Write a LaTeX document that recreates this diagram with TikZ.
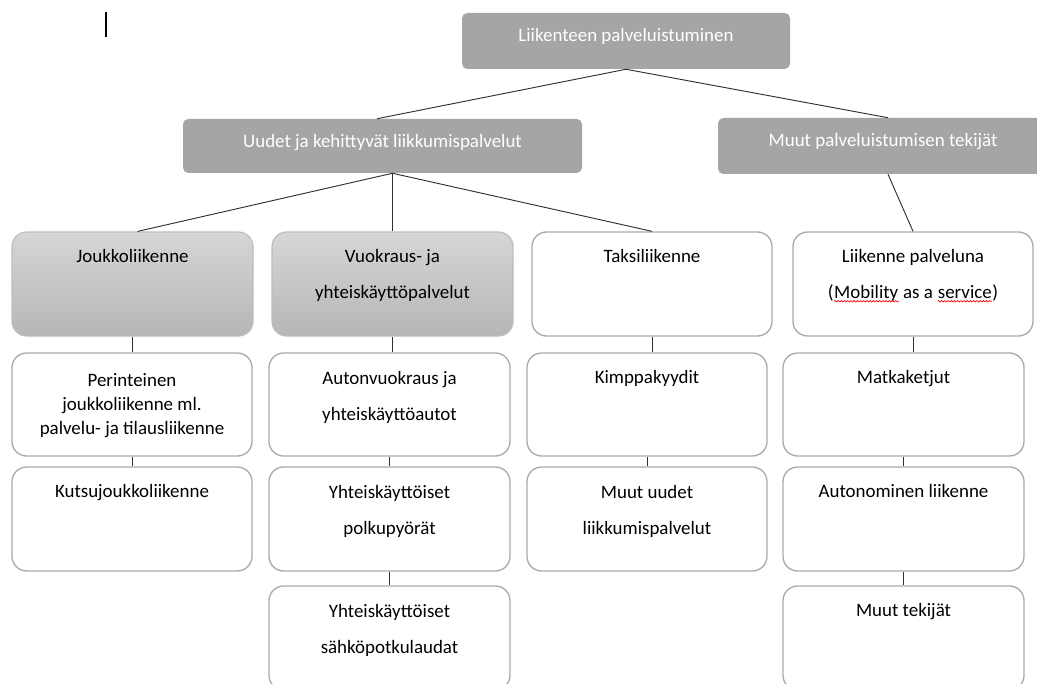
\documentclass[tikz,border=0pt]{standalone}
\usepackage{fontspec}
\setmainfont{Carlito}
\usetikzlibrary{fit,calc,decorations.pathmorphing}
\definecolor{hdrgrey}{HTML}{A5A5A5}
\definecolor{bordergrey}{HTML}{ABABAB}
\definecolor{gtop}{HTML}{D6D6D6}
\definecolor{gbot}{HTML}{B6B6B6}
\definecolor{gline}{HTML}{BDBDBD}
\definecolor{connc}{HTML}{303030}
\newcommand\redwave[1]{\tikz[baseline=(w.base)]{\node[inner sep=0pt, anchor=base] (w) {#1};
  \draw[red, line width=0.5pt, decorate, decoration={snake, amplitude=0.55pt, segment length=2.4pt}] ([yshift=-2.2pt]w.base west) -- ([yshift=-2.2pt]w.base east);}}
\tikzset{
  hdrbox/.style={fill=hdrgrey, rounded corners=4pt, inner sep=0pt},
  gradbox/.style={top color=gtop, bottom color=gbot, draw=gline, line width=0.9pt, rounded corners=11pt, inner sep=0pt},
  whitebox/.style={fill=white, draw=bordergrey, line width=1pt, rounded corners=11pt, inner sep=0pt},
  txt/.style={font=\fontsize{14.2}{27}\selectfont, align=center, anchor=base, inner sep=0pt},
  txtsingle/.style={txt, font=\fontsize{14.2}{18}\selectfont},
  hdrtxt/.style={txt, text=white},
  conn/.style={draw=connc, line width=0.7pt}
}
\begin{document}
\begin{tikzpicture}[x=0.75pt,y=-0.75pt]
\useasboundingbox (0,0) rectangle (1037,684);
\clip (0,0) rectangle (1037,684);
\fill[white] (0,0) rectangle (1037,684);

% text cursor
\draw[line width=1pt, black] (106,12) -- (106,37);

% level 1 and 2
\node[hdrbox, fit={(462,13) (790,69)}] (top) {};
\node[hdrtxt] (topt) at ($(top.north)+(0,29)$) {Liikenteen palveluistuminen};
\node[hdrbox, fit={(183,119) (582,173)}] (uudet) {};
\node[hdrtxt] (uudett) at ($(uudet.north)+(0,29)$) {Uudet ja kehittyvät liikkumispalvelut};
\node[hdrbox, fit={(718,118) (1058,174)}] (muut) {};
\node[hdrtxt] (muutt) at ($(muut.north)+(-5,29)$) {Muut palveluistumisen tekijät};

% level 3 (multi-line text: base anchor = last line)
\node[gradbox, fit={(12,232) (253,336)}] (joukko) {};
\node[txt] at ($(joukko.north)+(0,31)$) {Joukkoliikenne};
\node[gradbox, fit={(272,232) (513,336)}] (vuokraus) {};
\node[txt] at ($(vuokraus.north)+(0,67)$) {Vuokraus- ja\\yhteiskäyttöpalvelut};
\node[whitebox, fit={(532,232) (772,336)}] (taksi) {};
\node[txt] at ($(taksi.north)+(0,31)$) {Taksiliikenne};
\node[whitebox, fit={(793,232) (1033,336)}] (maas) {};
\node[txt] at ($(maas.north)+(0,67)$) {Liikenne palveluna\\(\redwave{Mobility} as a \redwave{service})};

% level 4, row a
\node[whitebox, fit={(12,353) (252,456)}] (perint) {};
\node[txtsingle] at ($(perint.north)+(0,82)$) {Perinteinen\\joukkoliikenne ml.\\palvelu- ja tilausliikenne};
\node[whitebox, fit={(269,353) (510,456)}] (autonv) {};
\node[txt] at ($(autonv.north)+(0,68)$) {Autonvuokraus ja\\yhteiskäyttöautot};
\node[whitebox, fit={(527,353) (767,456)}] (kimppa) {};
\node[txt] at ($(kimppa.north)+(0,31)$) {Kimppakyydit};
\node[whitebox, fit={(783,353) (1024,456)}] (matka) {};
\node[txt] at ($(matka.north)+(0,31)$) {Matkaketjut};

% level 4, row b
\node[whitebox, fit={(12,467) (252,571)}] (kutsu) {};
\node[txt] at ($(kutsu.north)+(0,31)$) {Kutsujoukkoliikenne};
\node[whitebox, fit={(269,467) (510,571)}] (polku) {};
\node[txt] at ($(polku.north)+(0,68)$) {Yhteiskäyttöiset\\polkupyörät};
\node[whitebox, fit={(527,467) (767,571)}] (muutuudet) {};
\node[txt] at ($(muutuudet.north)+(0,68)$) {Muut uudet\\liikkumispalvelut};
\node[whitebox, fit={(783,467) (1024,571)}] (auton) {};
\node[txt] at ($(auton.north)+(0,31)$) {Autonominen liikenne};

% level 4, row c
\node[whitebox, fit={(269,586) (510,690)}] (sahko) {};
\node[txt] at ($(sahko.north)+(0,68)$) {Yhteiskäyttöiset\\sähköpotkulaudat};
\node[whitebox, fit={(783,586) (1024,690)}] (muuttek) {};
\node[txt] at ($(muuttek.north)+(0,31)$) {Muut tekijät};

% connectors
\draw[conn] (top.south) -- (uudet.north -| 377,0);
\draw[conn] (top.south) -- (muut.north -| 888,0);
\coordinate (hub) at (vuokraus.north |- uudet.south);
\draw[conn] (hub) -- ($(joukko.north)+(5,0)$);
\draw[conn] (hub) -- (vuokraus.north);
\draw[conn] (hub) -- (taksi.north);
\draw[conn] (muut.south) -- (maas.north);

\draw[conn] (joukko.south) -- (joukko.south |- perint.north);
\draw[conn] (perint.south) -- (kutsu.north);
\draw[conn] (vuokraus.south) -- (vuokraus.south |- autonv.north);
\draw[conn] (autonv.south) -- (polku.north);
\draw[conn] (polku.south) -- (sahko.north);
\draw[conn] (taksi.south) -- (taksi.south |- kimppa.north);
\draw[conn] (kimppa.south) -- (muutuudet.north);
\draw[conn] (maas.south) -- (maas.south |- matka.north);
\draw[conn] (matka.south) -- (auton.north);
\draw[conn] (auton.south) -- (muuttek.north);
\end{tikzpicture}
\end{document}
